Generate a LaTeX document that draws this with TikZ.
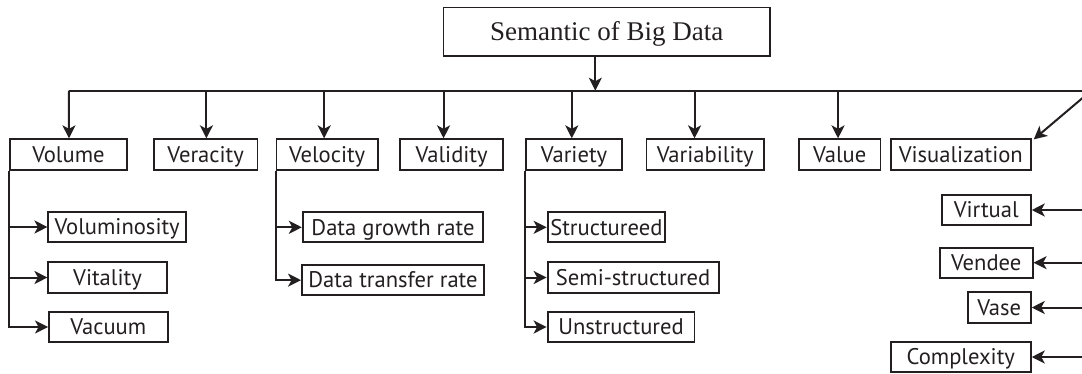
\documentclass[tikz,border=0pt]{standalone}
\usepackage{fontspec}
\setmainfont{Liberation Serif}
\newfontfamily\boxfont{PT Sans}
\usetikzlibrary{arrows.meta}
\definecolor{ink}{RGB}{35,31,32}
\begin{document}
\begin{tikzpicture}[x=1pt,y=-1pt,
  bx/.style={draw=ink,line width=1.9pt,inner sep=0pt,text=ink,
    font=\boxfont\fontsize{22.6}{26}\selectfont,text height=15.5pt,text depth=0pt},
  titlebx/.style={draw=ink,line width=1.6pt,inner sep=0pt,text=ink,
    font=\fontsize{27}{30}\selectfont,text height=17.5pt,text depth=0pt},
  ln/.style={draw=ink,line width=2pt},
  arr/.style={ln,-{Stealth[length=13pt,width=13pt,inset=3.5pt]}}]
\useasboundingbox (0,0) rectangle (1082,373);
% title
\node[titlebx,minimum width=326.4pt,minimum height=48.4pt] (top) at (606.7,31.5) {Semantic of Big Data};
% bus
\coordinate (busL) at (69,90.7);
\coordinate (busR) at (1086,90.7);
\draw[arr] ([xshift=-11.4pt]top.south) -- ([xshift=-11.4pt]top.south |- busL);
\draw[ln] (busR) -- (busL);
% level 2
\node[bx,minimum width=117.5pt,minimum height=30.7pt] (vol) at (68.45,154.65) {Volume};
\node[bx,minimum width=103.7pt,minimum height=30.7pt] (ver) at (205.65,154.65) {Veracity};
\node[bx,minimum width=101.3pt,minimum height=30.7pt] (vel) at (327.15,154.65) {Velocity};
\node[bx,minimum width=102.7pt,minimum height=30.7pt] (vald) at (451.65,154.65) {Validity};
\node[bx,minimum width=96pt,minimum height=30.7pt] (vari) at (574,154.65) {Variety};
\node[bx,minimum width=117.5pt,minimum height=30.7pt] (varb) at (705.25,154.65) {Variability};
\node[bx,minimum width=81.5pt,minimum height=30.7pt] (valu) at (839.75,154.65) {Value};
\node[bx,minimum width=140pt,minimum height=30.7pt] (vis) at (960.8,154.65) {Visualization};
\draw[arr] (busL) -- ([xshift=0.5pt]vol.north);
\draw[arr] ([xshift=0.75pt]ver.north |- busL) -- ([xshift=0.75pt]ver.north);
\draw[arr] ([xshift=-3pt]vel.north |- busL) -- ([xshift=-3pt]vel.north);
\draw[arr] ([xshift=-8.1pt]vald.north |- busL) -- ([xshift=-8.1pt]vald.north);
\draw[arr] ([xshift=-2.2pt]vari.north |- busL) -- ([xshift=-2.2pt]vari.north);
\draw[arr] ([xshift=-10.7pt]varb.north |- busL) -- ([xshift=-10.7pt]varb.north);
\draw[arr] ([xshift=-1.7pt]valu.north |- busL) -- ([xshift=-1.7pt]valu.north);
\coordinate (diag) at (1085,95.9);
\draw[arr] (diag) -- ([xshift=2pt,yshift=-1pt]vis.north east);
% Volume children
\node[bx,minimum width=137.6pt,minimum height=30.6pt] (volu) at (117.2,227) {Voluminosity};
\node[bx,minimum width=118.2pt,minimum height=30.4pt] (vita) at (107.5,277.5) {Vitality};
\node[bx,minimum width=118.6pt,minimum height=30.6pt] (vacu) at (108.3,327) {Vacuum};
\draw[arr] (vol.south west) |- (vacu.west);
\draw[arr] (vol.south west |- volu.west) -- (volu.west);
\draw[arr] (vol.south west |- vita.west) -- (vita.west);
% Velocity children
\node[bx,minimum width=180.4pt,minimum height=30pt] (dgr) at (393,227.3) {Data growth rate};
\node[bx,minimum width=182pt,minimum height=30.3pt] (dtr) at (393,280.15) {Data transfer rate};
\draw[arr] (vel.south west) |- (dtr.west);
\draw[arr] (vel.south west |- dgr.west) -- (dgr.west);
% Variety children
\node[bx,minimum width=117.5pt,minimum height=30pt] (str) at (606.35,227.3) {Structureed};
\node[bx,minimum width=171.1pt,minimum height=30.4pt] (semi) at (633.15,277.5) {Semi-structured};
\node[bx,minimum width=146.9pt,minimum height=30.6pt] (unst) at (621.05,327) {Unstructured};
\draw[arr] (vari.south west) |- (unst.west);
\draw[arr] (vari.south west |- str.west) -- (str.west);
\draw[arr] (vari.south west |- semi.west) -- (semi.west);
% right column
\node[bx,minimum width=89.1pt,minimum height=30pt] (virt) at (986.25,210) {Virtual};
\node[bx,minimum width=92.6pt,minimum height=30pt] (vend) at (986.3,262.7) {Vendee};
\node[bx,minimum width=63.2pt,minimum height=30.4pt] (vase) at (999.2,307.5) {Vase};
\node[bx,minimum width=140pt,minimum height=29.4pt] (cplx) at (960.8,357) {Complexity};
\coordinate (r1) at (1086,210);
\coordinate (r2) at (1086,262.7);
\coordinate (r3) at (1086,307.5);
\coordinate (r4) at (1086,357);
\draw[arr] (r1) -- (virt.east);
\draw[arr] (r2) -- (vend.east);
\draw[arr] (r3) -- (vase.east);
\draw[arr] (r4) -- (cplx.east);
\end{tikzpicture}
\end{document}
